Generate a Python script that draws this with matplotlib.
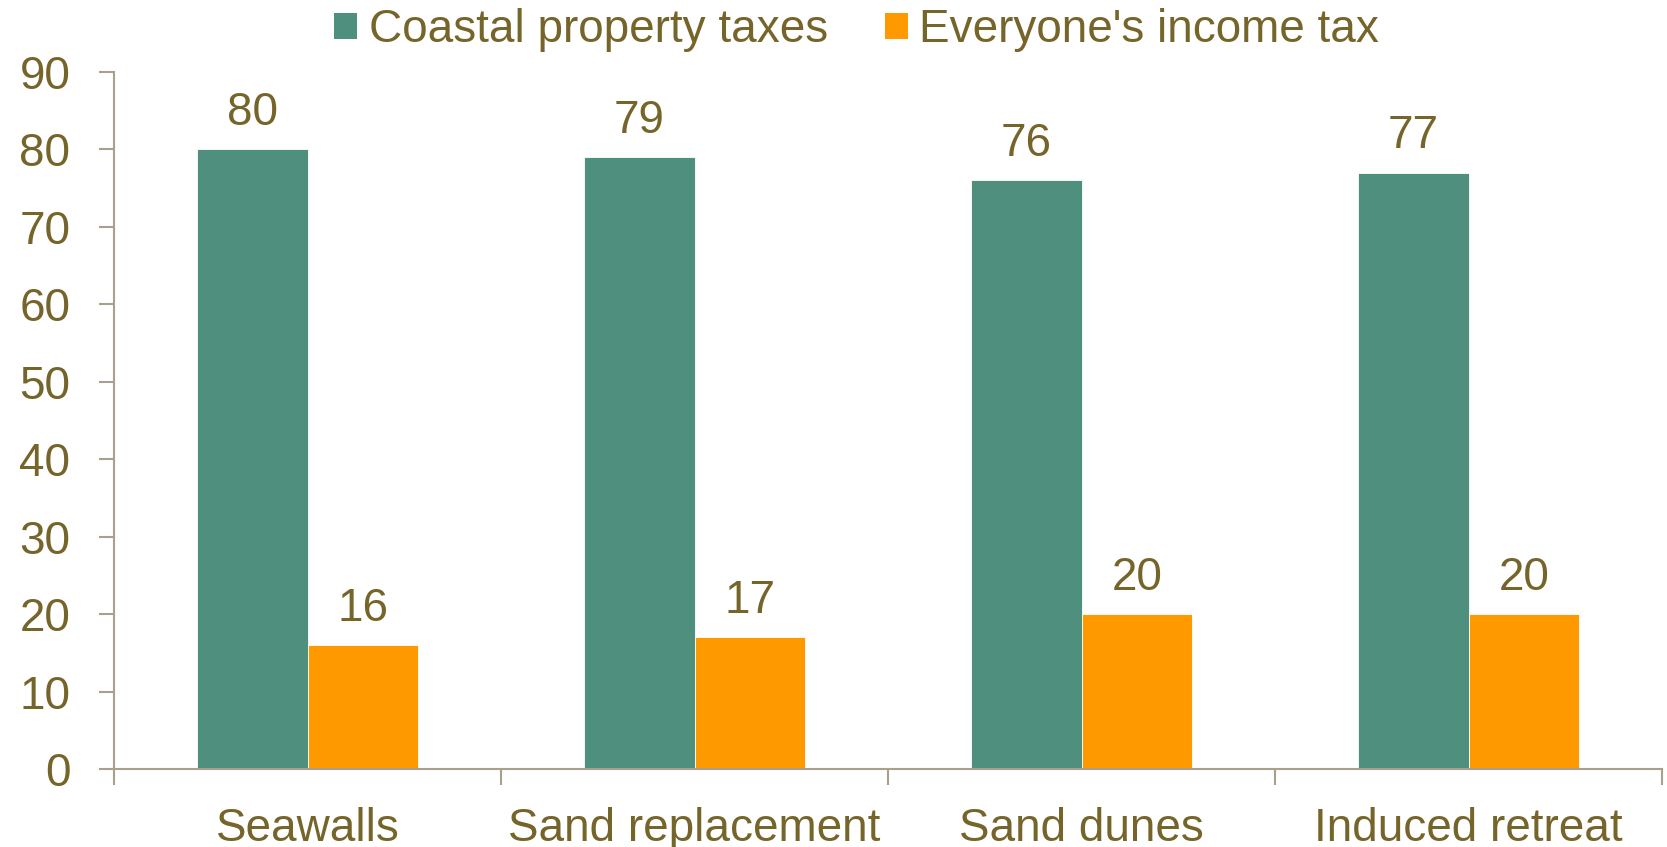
import matplotlib
matplotlib.use("Agg")
import matplotlib.pyplot as plt
from matplotlib.patches import Patch
import numpy as np

categories = ["Seawalls", "Sand replacement", "Sand dunes", "Induced retreat"]
series_names = ["Coastal property taxes", "Everyone's income tax"]
coastal = [80, 79, 76, 77]
income = [16, 17, 20, 20]
yticks = [0, 10, 20, 30, 40, 50, 60, 70, 80, 90]

GREEN = "#4f8f7e"
ORANGE = "#ff9900"
TEXT = "#76652a"
SPINE = "#a8a08c"
FS = 33

plt.rcParams["font.family"] = ["Liberation Sans", "DejaVu Sans"]

fig = plt.figure(figsize=(16.67, 8.47), dpi=100)
ax = fig.add_axes([0.0684, 0.0921, 0.9286, 0.8229])

x = np.arange(len(categories))
w = 0.286
b1 = ax.bar(x - w / 2, coastal, w, color=GREEN, edgecolor="white", linewidth=0.6)
b2 = ax.bar(x + w / 2, income, w, color=ORANGE, edgecolor="white", linewidth=0.6)

for bars, vals in ((b1, coastal), (b2, income)):
    for rect, v in zip(bars, vals):
        ax.annotate(str(v), (rect.get_x() + rect.get_width() / 2, v),
                    xytext=(0, 17.5), textcoords="offset points",
                    ha="center", va="baseline", fontsize=FS, color=TEXT,
                    annotation_clip=False)

ax.set_xlim(-0.5, len(categories) - 0.5)
ax.set_ylim(0, 90)
ax.set_yticks(yticks)
ax.set_yticklabels([str(t) for t in yticks])
ax.set_xticks(x)
ax.set_xticklabels(categories)
ax.set_xticks(np.arange(-0.5, len(categories), 1.0), minor=True)

ax.tick_params(axis="x", which="major", length=0, pad=27.5, labelsize=FS, labelcolor=TEXT)
ax.tick_params(axis="x", which="minor", length=11.5, width=1.5, color=SPINE, direction="out")
ax.tick_params(axis="y", length=10.5, width=1.5, color=SPINE, pad=21, labelsize=FS, labelcolor=TEXT)

for s in ("top", "right"):
    ax.spines[s].set_visible(False)
for s in ("left", "bottom"):
    ax.spines[s].set_color(SPINE)
    ax.spines[s].set_linewidth(1.5)
ax.spines["left"].set_bounds(0, 90)

handles = [Patch(facecolor=GREEN, edgecolor="none"), Patch(facecolor=ORANGE, edgecolor="none")]
leg = fig.legend(handles, series_names, loc="center", bbox_to_anchor=(0.514, 0.9646),
                 ncol=2, frameon=False, fontsize=FS, handlelength=0.5, handleheight=0.5,
                 handletextpad=0.25, columnspacing=1.25, borderpad=0, borderaxespad=0)
for t in leg.get_texts():
    t.set_color(TEXT)

fig.savefig("out.png", dpi=100, facecolor="white")
